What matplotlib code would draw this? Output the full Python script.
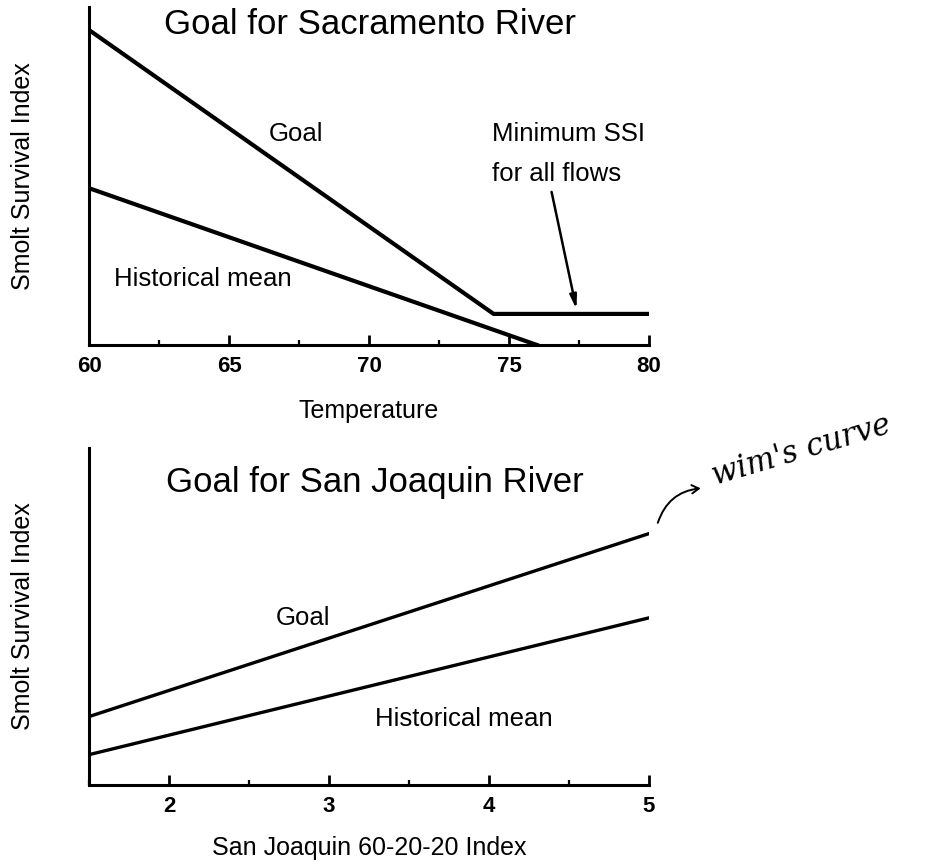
import matplotlib

matplotlib.use("Agg")
matplotlib.rcParams.update({
    "font.family": ["Liberation Sans", "DejaVu Sans"],
    "axes.linewidth": 2.2,
})

import matplotlib.pyplot as plt
from matplotlib.ticker import MultipleLocator, NullLocator

# --- data (y is an unscaled survival index, 0-100) ---
SAC_GOAL_X = [60, 74.45, 80]
SAC_GOAL_Y = [93.2, 9.2, 9.2]
SAC_HIST_X = [60, 76]
SAC_HIST_Y = [46.4, 0]
SAC_XTICKS = [60, 65, 70, 75, 80]

SJ_GOAL_X = [1.5, 5]
SJ_GOAL_Y = [20.3, 74.6]
SJ_HIST_X = [1.5, 5]
SJ_HIST_Y = [9.0, 49.6]
SJ_XTICKS = [2, 3, 4, 5]

W, H = 929, 865
LABEL = 18.5
TITLE = 25
fig = plt.figure(figsize=(W / 100, H / 100), dpi=100)


def px_axes(left, right, top, bottom):
    return fig.add_axes([left / W, 1 - bottom / H,
                         (right - left) / W, (bottom - top) / H])


def style(ax, xlabel, ylabel):
    for s in ("top", "right"):
        ax.spines[s].set_visible(False)
    ax.set_ylim(0, 100)
    ax.yaxis.set_major_locator(NullLocator())
    ax.tick_params(axis="x", which="major", direction="in", length=7,
                   width=2, pad=8, labelsize=16)
    ax.tick_params(axis="x", which="minor", direction="in", length=3.5,
                   width=1.6)
    for lab in ax.get_xticklabels():
        lab.set_fontweight("bold")
    ax.set_xlabel(xlabel, fontsize=18)
    ax.set_ylabel(ylabel, fontsize=18)
    ax.yaxis.set_label_coords(-0.097, 0.5)


# ---------------- Sacramento ----------------
ax1 = px_axes(89, 649, 7, 345)
ax1.plot(SAC_GOAL_X, SAC_GOAL_Y, color="black", lw=3.0,
         solid_joinstyle="miter")
ax1.plot(SAC_HIST_X, SAC_HIST_Y, color="black", lw=3.0)
ax1.set_xlim(60, 80)
ax1.set_xticks(SAC_XTICKS)
ax1.xaxis.set_minor_locator(MultipleLocator(2.5))
style(ax1, "Temperature", "Smolt Survival Index")
ax1.xaxis.set_label_coords(0.5, -0.16)
ax1.text(0.502, 0.947, "Goal for Sacramento River", transform=ax1.transAxes,
         ha="center", va="center", fontsize=TITLE)
ax1.text(67.4, 62.5, "Goal", ha="center", va="center", fontsize=LABEL)
ax1.text(60.9, 19.6, "Historical mean", ha="left", va="center",
         fontsize=LABEL)
ax1.text(74.4, 62.5, "Minimum SSI", ha="left", va="center", fontsize=LABEL)
ax1.text(74.4, 50.6, "for all flows", ha="left", va="center",
         fontsize=LABEL)
ax1.annotate("", xy=(77.43, 9.8), xytext=(76.5, 46.1),
             arrowprops=dict(arrowstyle="-|>,head_length=0.8,head_width=0.2",
                             color="black", lw=1.8))

# ---------------- San Joaquin ----------------
ax2 = px_axes(89, 649, 448, 785)
ax2.plot(SJ_GOAL_X, SJ_GOAL_Y, color="black", lw=2.4)
ax2.plot(SJ_HIST_X, SJ_HIST_Y, color="black", lw=2.4)
ax2.set_xlim(1.5, 5)
ax2.set_xticks(SJ_XTICKS)
ax2.xaxis.set_minor_locator(MultipleLocator(0.5))
style(ax2, "San Joaquin 60-20-20 Index", "Smolt Survival Index")
ax2.xaxis.set_label_coords(0.5, -0.15)
ax2.text(0.511, 0.899, "Goal for San Joaquin River", transform=ax2.transAxes,
         ha="center", va="center", fontsize=TITLE)
ax2.text(2.84, 49.6, "Goal", ha="center", va="center", fontsize=LABEL)
ax2.text(3.84, 19.7, "Historical mean", ha="center", va="center",
         fontsize=LABEL)

# handwritten note on the scan
ax2.annotate("", xy=(5.34, 88.1), xytext=(5.05, 77.0),
             arrowprops=dict(arrowstyle="->,head_length=0.5,head_width=0.3",
                             connectionstyle="arc3,rad=-0.35",
                             color="black", lw=1.4),
             annotation_clip=False)
ax2.text(5.425, 87.0, "wim's curve", ha="left", va="bottom", fontsize=22,
         rotation=16.5, rotation_mode="anchor", fontstyle="italic",
         family="DejaVu Serif", clip_on=False)

fig.savefig("out.png", dpi=100, facecolor="white")
